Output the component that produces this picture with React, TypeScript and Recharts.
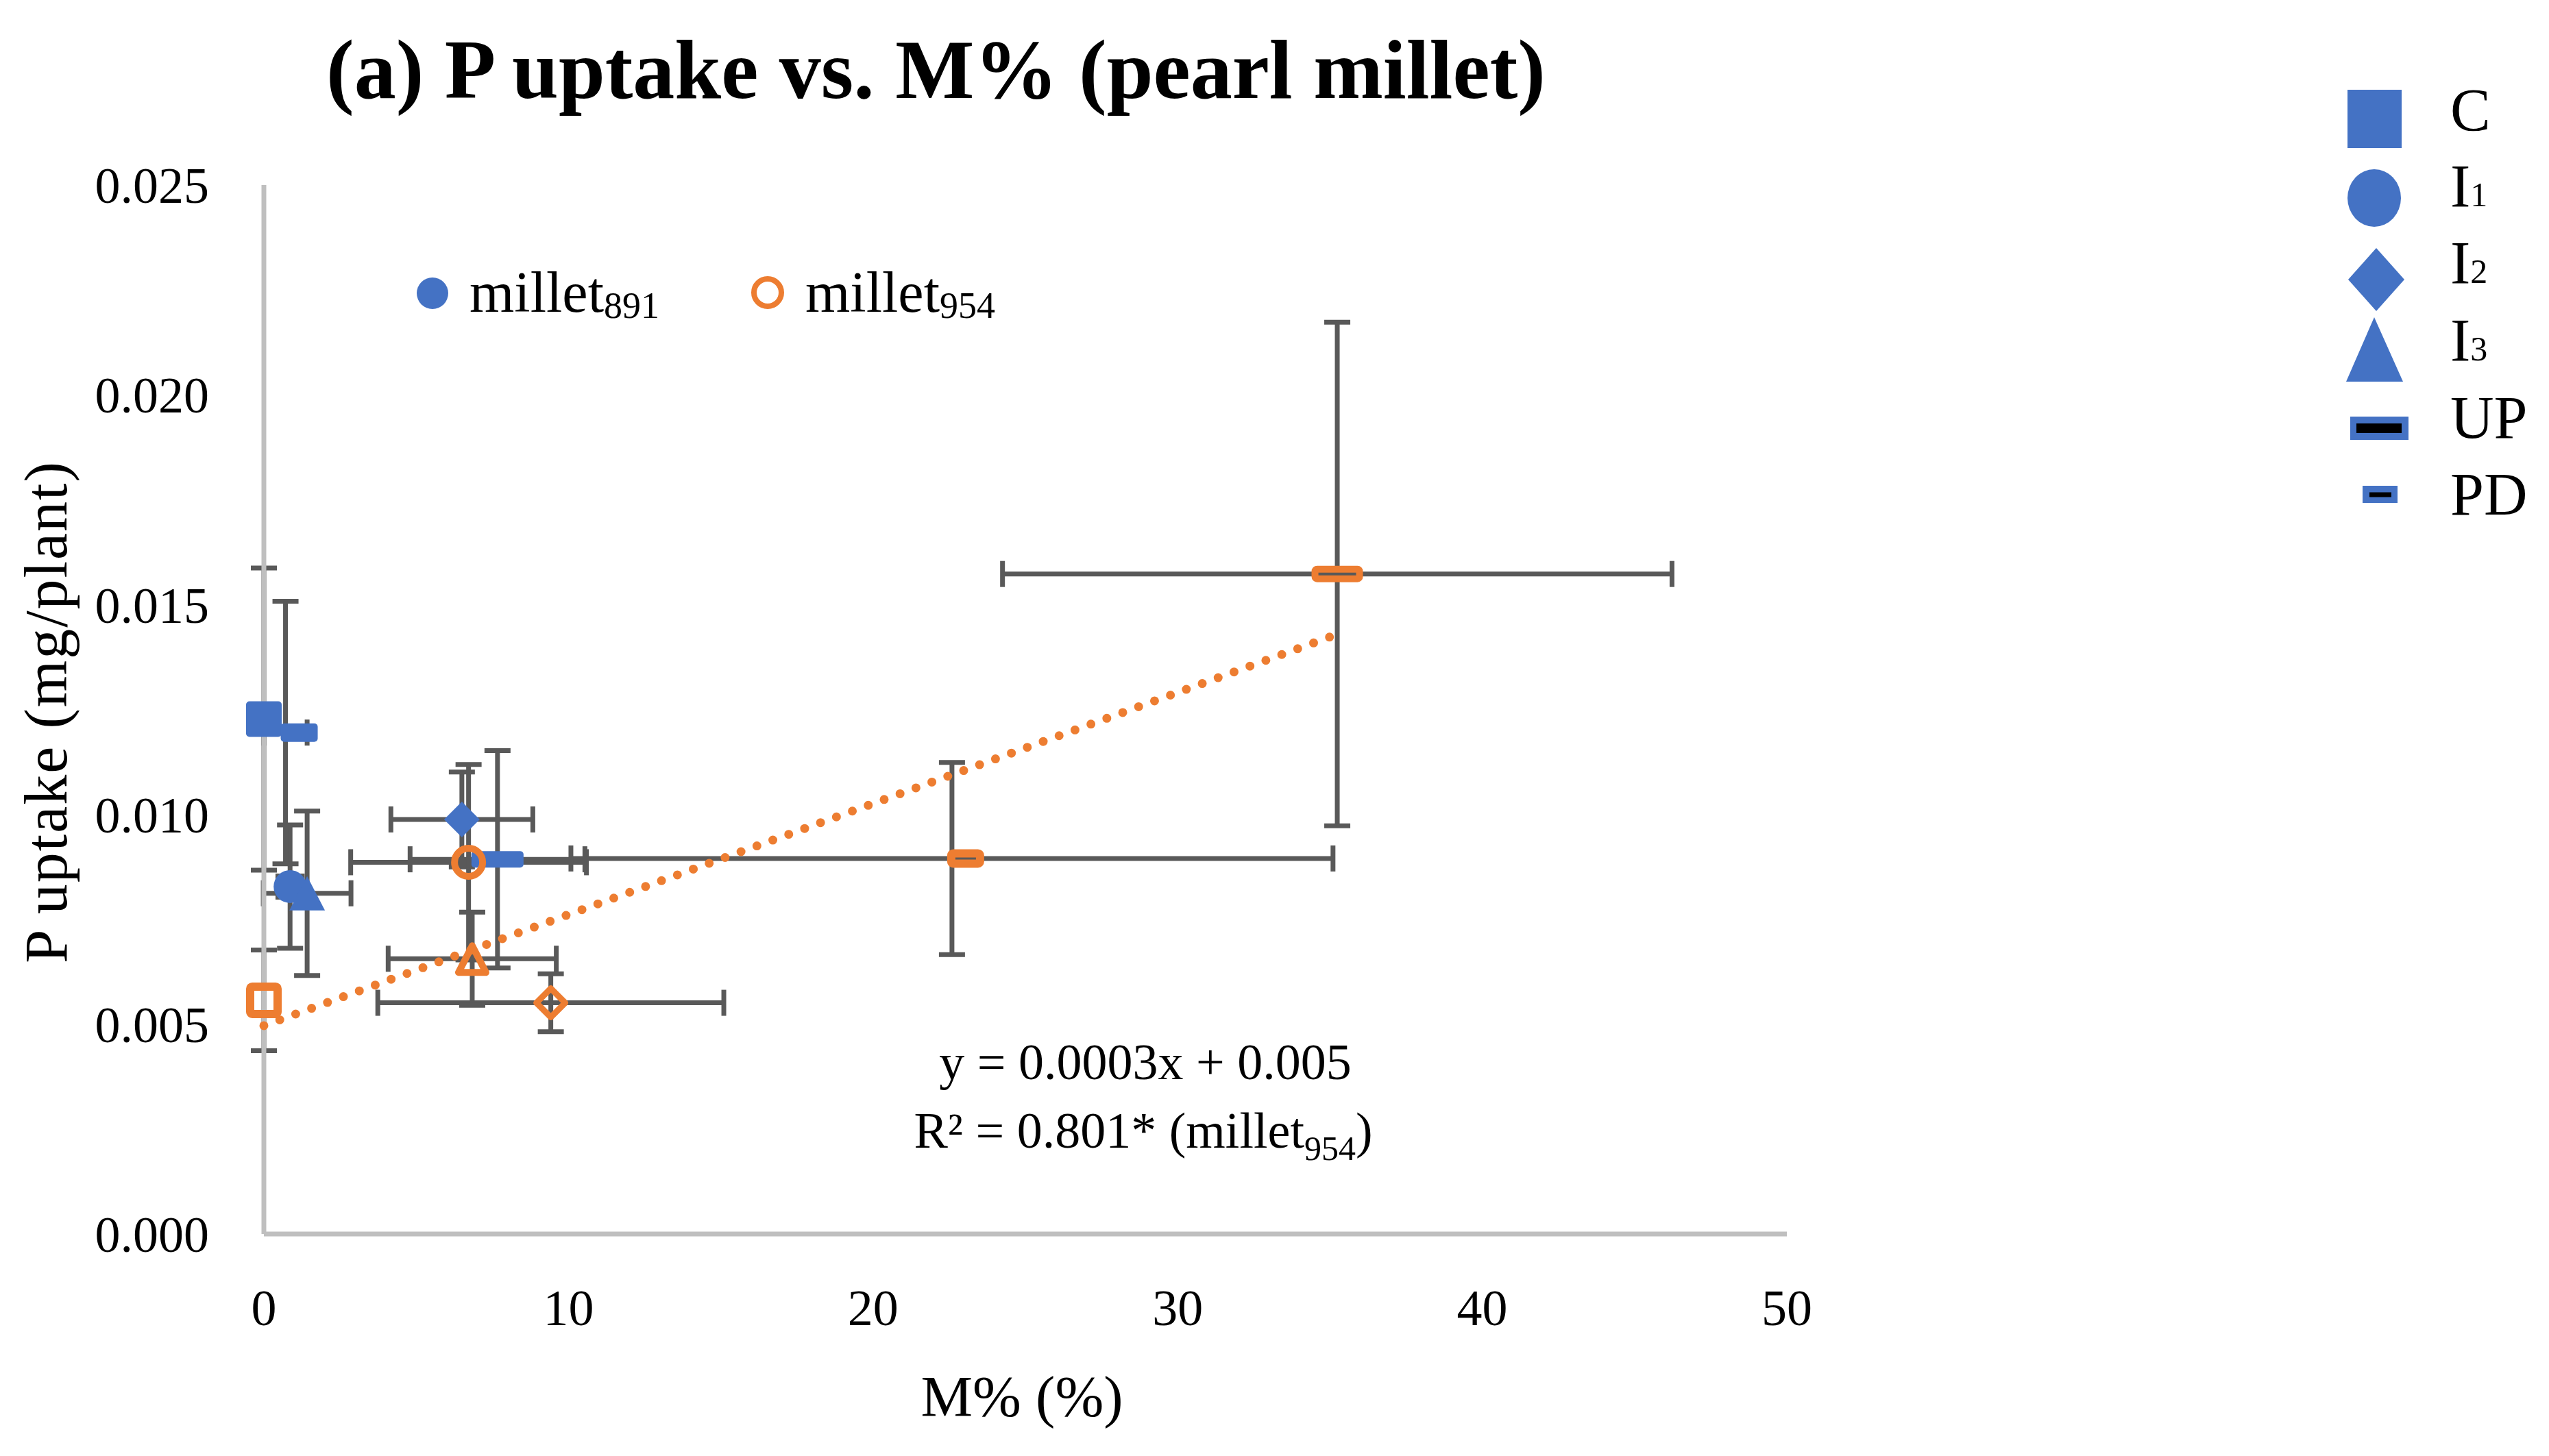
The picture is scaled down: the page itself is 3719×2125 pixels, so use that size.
import React from 'react';
import { ScatterChart, Scatter, XAxis, YAxis, ErrorBar } from 'recharts';

// treatments in the order they are listed in the legend
const treatments = ['C', 'I1', 'I2', 'I3', 'UP', 'PD'];

// millet891 (blue, filled markers)
const m891 = [0, 0.86, 6.5, 1.42, 7.67, 0.71];
const p891 = [0.01227, 0.00828, 0.00988, 0.00812, 0.00893, 0.01195];
const m891Err = [0, 0.4, 2.33, 1.44, 2.87, 0.71];
const p891Err = [0.0036, 0.00147, 0.00113, 0.00196, 0.00259, 0.00313];

// millet954 (orange, hollow markers)
const m954 = [0, 6.72, 9.42, 6.84, 35.24, 22.59];
const p954 = [0.00557, 0.00886, 0.00551, 0.00656, 0.01573, 0.00895];
const m954Err = [0, 3.87, 5.68, 2.76, 10.99, 12.51];
const p954Err = [0.0012, 0.00233, 0.00069, 0.00111, 0.006, 0.00229];

const xTicks = [0, 10, 20, 30, 40, 50];
const yTicks = [0, 0.005, 0.01, 0.015, 0.02, 0.025];

const BLUE = '#4472C4';
const ORANGE = '#ED7D31';
const BAR = '#595959';
const AXIS = '#BFBFBF';
const FONT = "'Liberation Serif', 'Times New Roman', serif";

const build = (m: number[], p: number[], me: number[], pe: number[]) =>
  treatments.map((t, i) => ({ t, x: m[i], y: p[i], xe: me[i], ye: pe[i] }));

const data891 = build(m891, p891, m891Err, p891Err);
const data954 = build(m954, p954, m954Err, p954Err);

// linear trend of millet954, over the range of its values
const fitLine = (xs: number[], ys: number[]) => {
  const n = xs.length;
  const mx = xs.reduce((a, b) => a + b, 0) / n;
  const my = ys.reduce((a, b) => a + b, 0) / n;
  let sxy = 0;
  let sxx = 0;
  xs.forEach((x, i) => {
    sxy += (x - mx) * (ys[i] - my);
    sxx += (x - mx) * (x - mx);
  });
  const slope = sxy / sxx;
  const icpt = my - slope * mx;
  const lo = Math.min(...xs);
  const hi = Math.max(...xs);
  return [
    { x: lo, y: icpt + slope * lo },
    { x: hi, y: icpt + slope * hi },
  ];
};
const trend954 = fitLine(m954, p954);

const makeShape = (color: string, hollow: boolean) => (props: any) => {
  const { cx, cy, payload } = props;
  if (cx == null || cy == null) return <g />;
  const fill = hollow ? 'none' : color;
  const stroke = hollow ? color : 'none';
  switch (payload.t) {
    case 'C':
      return hollow ? (
        <rect x={cx - 20} y={cy - 20} width={40} height={40} rx={3} fill="none" stroke={color} strokeWidth={12} />
      ) : (
        <rect x={cx - 26} y={cy - 26} width={52} height={52} rx={5} fill={color} />
      );
    case 'I1':
      return <circle cx={cx} cy={cy} r={hollow ? 20.5 : 24} fill={fill} stroke={stroke} strokeWidth={10} />;
    case 'I2': {
      const h = hollow ? 21 : 26;
      return (
        <polygon
          points={`${cx},${cy - h} ${cx + h},${cy} ${cx},${cy + h} ${cx - h},${cy}`}
          fill={fill}
          stroke={stroke}
          strokeWidth={9}
          strokeLinejoin="round"
        />
      );
    }
    case 'I3': {
      const w = hollow ? 20 : 26;
      const top = hollow ? 19 : 25;
      const bot = hollow ? 20 : 25;
      return (
        <polygon
          points={`${cx},${cy - top} ${cx + w},${cy + bot} ${cx - w},${cy + bot}`}
          fill={fill}
          stroke={stroke}
          strokeWidth={10}
          strokeLinejoin="round"
        />
      );
    }
    case 'UP':
      return hollow ? (
        <rect x={cx - 32.5} y={cy - 7} width={65} height={14} rx={3} fill="none" stroke={color} strokeWidth={10} />
      ) : (
        <rect x={cx - 38} y={cy - 12} width={76} height={24} rx={5} fill={color} />
      );
    case 'PD':
      // the PD marker sits a little right of its error bar in the original
      return hollow ? (
        <rect x={cx + 20 - 21} y={cy - 7.5} width={42} height={15} rx={3} fill="none" stroke={color} strokeWidth={12} />
      ) : (
        <rect x={cx + 20 - 27} y={cy - 13.5} width={54} height={27} rx={5} fill={color} />
      );
    default:
      return <g />;
  }
};

const noShape = () => <g />;

const Overlay = () => (
  <svg
    width={3719}
    height={2125}
    style={{ position: 'absolute', left: 0, top: 0, pointerEvents: 'none' }}
    fontFamily={FONT}
  >
    <text x={476} y={143} fontSize={122} fontWeight="bold" fill="#000">
      (a) P uptake vs. M% (pearl millet)
    </text>

    <text
      x={97}
      y={1039}
      fontSize={88}
      letterSpacing={2}
      textAnchor="middle"
      transform="rotate(-90 97 1039)"
      fill="#000"
    >
      P uptake (mg/plant)
    </text>
    <text x={1491} y={2067} fontSize={85} textAnchor="middle" fill="#000">
      M% (%)
    </text>

    {/* cultivar legend inside the plot */}
    <circle cx={631} cy={428} r={23} fill={BLUE} />
    <text x={685} y={455} fontSize={84} fill="#000">
      millet
      <tspan fontSize={54} dy={9}>891</tspan>
    </text>
    <circle cx={1120} cy={427} r={20} fill="none" stroke={ORANGE} strokeWidth={8} />
    <text x={1175} y={455} fontSize={84} fill="#000">
      millet
      <tspan fontSize={54} dy={9}>954</tspan>
    </text>

    {/* treatment legend */}
    <rect x={3425} y={131} width={79} height={85} fill={BLUE} />
    <ellipse cx={3464} cy={289} rx={39} ry={42} fill={BLUE} />
    <polygon points="3467,362 3508,408 3467,454 3426,408" fill={BLUE} />
    <polygon points="3464,463 3506,557 3423,557" fill={BLUE} />
    <rect x={3429} y={608} width={85} height={34} fill={BLUE} />
    <rect x={3438} y={618} width={66} height={14} fill="#000" />
    <rect x={3447} y={709} width={51} height={25} fill={BLUE} />
    <rect x={3457} y={718.5} width={32} height={7} fill="#000" />

    <text x={3575} y={190} fontSize={88} fill="#000">C</text>
    <text x={3575} y={301} fontSize={88} fill="#000">
      I<tspan fontSize={50}>1</tspan>
    </text>
    <text x={3575} y={413} fontSize={88} fill="#000">
      I<tspan fontSize={50}>2</tspan>
    </text>
    <text x={3575} y={526} fontSize={88} fill="#000">
      I<tspan fontSize={50}>3</tspan>
    </text>
    <text x={3575} y={639} fontSize={88} fill="#000">UP</text>
    <text x={3575} y={751} fontSize={88} fill="#000">PD</text>

    {/* trendline label */}
    <text x={1671} y={1575} fontSize={74} textAnchor="middle" fill="#000">
      y = 0.0003x + 0.005
    </text>
    <text x={1668} y={1675} fontSize={74} textAnchor="middle" fill="#000">
      R² = 0.801* (millet
      <tspan fontSize={50} dy={18}>954</tspan>
      <tspan dy={-18}>)</tspan>
    </text>
  </svg>
);

const App = () => {
  return (
    <div style={{ position: 'absolute', left: 0, top: 0, width: 3719, height: 2125, background: '#fff' }}>
      <ScatterChart width={3719} height={2125} margin={{ top: 270, right: 1112, bottom: 124, left: 185 }}>
        <XAxis
          type="number"
          dataKey="x"
          domain={[0, 50]}
          ticks={xTicks}
          interval={0}
          height={200}
          tickLine={false}
          tickSize={0}
          tickMargin={80}
          axisLine={{ stroke: AXIS, strokeWidth: 7 }}
          tick={{ fill: '#000', fontSize: 74, fontFamily: FONT }}
        />
        <XAxis xAxisId="eb" type="number" dataKey="x" domain={[0, 50]} allowDataOverflow hide />
        <YAxis
          type="number"
          dataKey="y"
          domain={[0, 0.025]}
          ticks={yTicks}
          interval={0}
          width={200}
          tickLine={false}
          tickSize={0}
          tickMargin={80}
          tickFormatter={(v: number) => v.toFixed(3)}
          axisLine={{ stroke: AXIS, strokeWidth: 7 }}
          tick={{ fill: '#000', fontSize: 74, fontFamily: FONT }}
        />

        {/* error bars first, clipped to the plot area */}
        <Scatter xAxisId="eb" data={data891} shape={noShape} isAnimationActive={false}>
          <ErrorBar dataKey="xe" direction="x" stroke={BAR} strokeWidth={7} width={19} />
          <ErrorBar dataKey="ye" direction="y" stroke={BAR} strokeWidth={7} width={19} />
        </Scatter>
        <Scatter xAxisId="eb" data={data954} shape={noShape} isAnimationActive={false}>
          <ErrorBar dataKey="xe" direction="x" stroke={BAR} strokeWidth={7} width={19} />
          <ErrorBar dataKey="ye" direction="y" stroke={BAR} strokeWidth={7} width={19} />
        </Scatter>

        <Scatter
          data={trend954}
          shape={noShape}
          line={{ stroke: ORANGE, strokeWidth: 13, strokeDasharray: '0 24.7', strokeLinecap: 'round' }}
          isAnimationActive={false}
        />

        <Scatter data={data891} shape={makeShape(BLUE, false)} isAnimationActive={false} />
        <Scatter data={data954} shape={makeShape(ORANGE, true)} isAnimationActive={false} />
      </ScatterChart>
      <Overlay />
    </div>
  );
};

export default App;
